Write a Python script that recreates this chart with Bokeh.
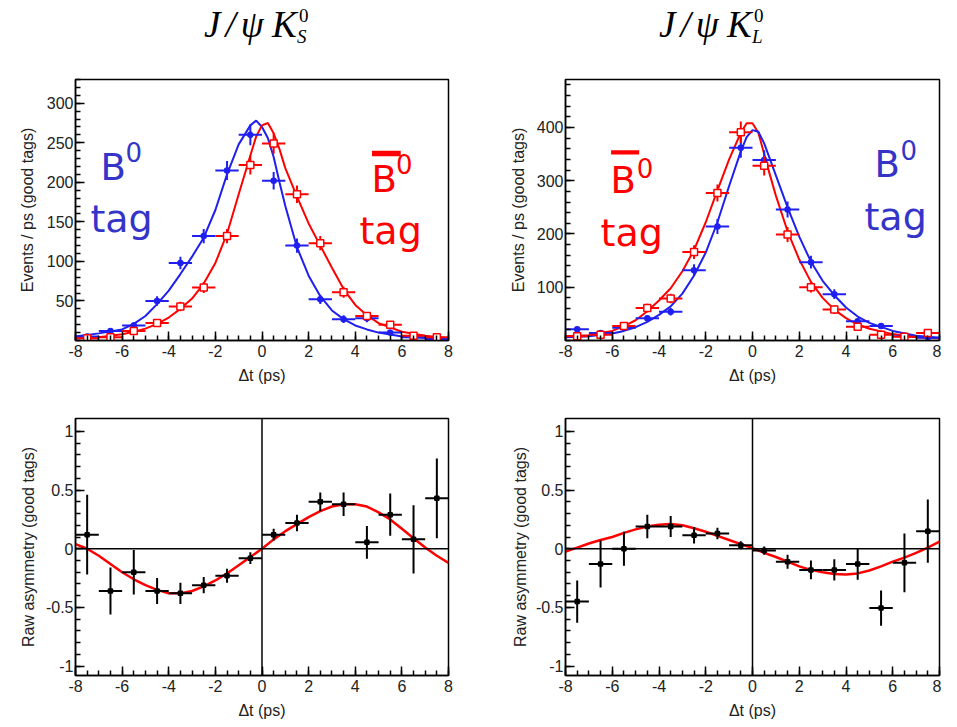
import numpy as np
from bokeh.plotting import figure
from bokeh.models import FixedTicker, Span, Label, Div, BoxAnnotation, CustomJSTickFormatter
from bokeh.layouts import column, row
from bokeh.embed import file_html
from bokeh.resources import INLINE

# ---------------- data ----------------
bin_centers = [-7.5, -6.5, -5.5, -4.5, -3.5, -2.5, -1.5, -0.5,
               0.5, 1.5, 2.5, 3.5, 4.5, 5.5, 6.5, 7.5]
bin_halfwidth = 0.5

# J/psi K0S : events / ps
ks_b0_counts = [5, 12, 19, 50, 98, 132, 215, 260, 202, 120, 52, 27, 28, 10, 4, 2]
ks_b0_errors = [2, 3, 4, 6, 8, 9, 12, 13, 11, 9, 6, 5, 5, 3, 2, 1.5]
ks_b0bar_counts = [3, 4, 12, 22, 43, 67, 132, 222, 249, 185, 123, 61, 31, 20, 6, 4]
ks_b0bar_errors = [1.5, 2, 3, 4, 6, 7, 9, 12, 13, 11, 9, 7, 5, 4, 2, 2]

curve_t = [-8, -7, -6, -5.5, -5, -4.5, -4, -3.5, -3, -2.5, -2, -1.5, -1, -0.5, -0.25,
           0, 0.25, 0.5, 0.75, 1, 1.5, 2, 2.5, 3, 3.5, 4, 4.5, 5, 6, 7, 8]
ks_b0_curve = [5, 9, 14, 21, 31, 46, 63, 84, 106, 130, 165, 210, 248, 272, 278,
               270, 256, 232, 200, 170, 118, 82, 56, 38, 27, 19, 14, 10, 5, 3, 2]
ks_b0bar_curve = [3, 4, 8, 11, 15, 21, 29, 40, 53, 72, 98, 135, 185, 234, 258,
                  272, 275, 262, 242, 218, 182, 148, 120, 92, 65, 45, 32, 22, 11, 6, 3]

# J/psi K0L : events / ps
kl_b0_counts = [21, 14, 24, 42, 54, 132, 214, 362, 339, 246, 147, 87, 36, 27, 8, 5]
kl_b0_errors = [4, 3, 4, 6, 7, 11, 14, 19, 18, 15, 12, 9, 6, 5, 3, 2]
kl_b0bar_counts = [8, 11, 27, 61, 79, 166, 277, 391, 328, 199, 100, 58, 26, 11, 7, 14]
kl_b0bar_errors = [3, 3, 5, 8, 9, 13, 16, 20, 18, 14, 10, 8, 5, 3, 3, 4]
kl_b0bar_curve = [8, 10, 18, 27, 38, 55, 75, 98, 130, 170, 222, 282, 340, 390, 408,
                  408, 390, 350, 310, 272, 205, 152, 110, 80, 58, 42, 30, 22, 12, 6, 4]
kl_b0_curve = [6, 8, 13, 18, 25, 35, 48, 64, 88, 122, 165, 222, 290, 355, 382,
               395, 392, 370, 340, 310, 250, 195, 148, 112, 85, 62, 45, 33, 18, 9, 5]

# raw asymmetries
ks_asym = [0.12, -0.36, -0.20, -0.36, -0.38, -0.31, -0.23, -0.08,
           0.12, 0.22, 0.40, 0.38, 0.055, 0.29, 0.08, 0.43]
ks_asym_err = [0.34, 0.20, 0.19, 0.11, 0.09, 0.07, 0.06, 0.05,
               0.05, 0.07, 0.08, 0.10, 0.14, 0.18, 0.29, 0.34]
kl_asym = [-0.45, -0.13, 0.0, 0.19, 0.19, 0.115, 0.13, 0.03,
           -0.015, -0.11, -0.18, -0.18, -0.13, -0.505, -0.12, 0.15]
kl_asym_err = [0.18, 0.20, 0.145, 0.10, 0.09, 0.07, 0.05, 0.035,
               0.035, 0.06, 0.08, 0.09, 0.135, 0.15, 0.25, 0.27]

asym_curve_t = [-8, -7.5, -7, -6.5, -6, -5.5, -5, -4.5, -4, -3.5, -3, -2.5, -2, -1.5, -1, -0.5,
                0, 0.5, 1, 1.5, 2, 2.5, 3, 3.5, 4, 4.5, 5, 5.5, 6, 6.5, 7, 7.5, 8]
ks_asym_curve = [0.04, 0.0, -0.06, -0.13, -0.20, -0.26, -0.31, -0.35, -0.38, -0.38, -0.36,
                 -0.32, -0.27, -0.21, -0.14, -0.07, 0.0, 0.08, 0.15, 0.21, 0.27, 0.32, 0.36,
                 0.38, 0.38, 0.36, 0.31, 0.25, 0.17, 0.09, 0.01, -0.06, -0.12]
kl_asym_curve = [-0.025, 0.01, 0.045, 0.075, 0.10, 0.135, 0.165, 0.19, 0.205, 0.21, 0.20,
                 0.175, 0.145, 0.11, 0.075, 0.04, 0.005, -0.035, -0.07, -0.11, -0.15, -0.18,
                 -0.20, -0.215, -0.22, -0.21, -0.185, -0.15, -0.11, -0.075, -0.035, 0.01, 0.06]

# tick labels
x_ticks = [-8, -6, -4, -2, 0, 2, 4, 6, 8]
x_minor = [-8 + 0.5 * i for i in range(33)]
ks_y_ticks = [50, 100, 150, 200, 250, 300]
ks_y_minor = list(range(0, 331, 10))
kl_y_ticks = [100, 200, 300, 400]
kl_y_minor = list(range(0, 491, 20))
asym_y_ticks = [-1, -0.5, 0, 0.5, 1]
asym_y_minor = [round(-1.0 + 0.1 * i, 1) for i in range(21)]

BLUE = "#1f1ff0"
RED = "#ff0000"
TXT_BLUE = "#3434c8"
FONT = "Liberation Sans"


def make_fig(width, height, yrange, yticks, yminor, ylabel, borders, ylab_standoff):
    left, right, top, bottom = borders
    p = figure(width=width, height=height, x_range=(-8, 8), y_range=yrange,
               output_backend="svg", toolbar_location=None,
               min_border_left=left, min_border_right=right,
               min_border_top=top, min_border_bottom=bottom)
    p.xgrid.visible = False
    p.ygrid.visible = False
    p.outline_line_color = "black"
    p.outline_line_width = 1.5
    p.outline_line_alpha = 1.0
    p.background_fill_color = "white"
    p.border_fill_color = "white"
    p.xaxis.ticker = FixedTicker(ticks=x_ticks, minor_ticks=x_minor)
    p.yaxis.ticker = FixedTicker(ticks=yticks, minor_ticks=yminor)
    for ax in (p.xaxis[0], p.yaxis[0]):
        ax.formatter = CustomJSTickFormatter(code="return String(tick);")
        ax.major_tick_in = 9
        ax.major_tick_out = 0
        ax.minor_tick_in = 5
        ax.minor_tick_out = 0
        ax.major_tick_line_color = "black"
        ax.minor_tick_line_color = "black"
        ax.major_tick_line_width = 1.5
        ax.minor_tick_line_width = 1.5
        ax.axis_line_color = "black"
        ax.axis_line_width = 1.5
        ax.major_label_text_font = FONT
        ax.major_label_text_font_size = "16px"
        ax.major_label_text_color = "#222222"
        ax.axis_label_text_font = FONT
        ax.axis_label_text_font_size = "16px"
        ax.axis_label_text_font_style = "normal"
        ax.axis_label_text_color = "#222222"
    p.xaxis.axis_label = "Δt (ps)"
    p.xaxis.major_label_standoff = 4
    p.xaxis.axis_label_standoff = 7
    p.yaxis.axis_label = ylabel
    p.yaxis.major_label_standoff = 2
    p.yaxis.axis_label_standoff = ylab_standoff
    return p


def draw_points(p, y, err, color, marker, size, fill):
    x = np.array(bin_centers)
    y = np.array(y, dtype=float)
    e = np.array(err, dtype=float)
    p.segment(x - bin_halfwidth, y, x + bin_halfwidth, y, line_color=color, line_width=2)
    p.segment(x, y - e, x, y + e, line_color=color, line_width=2)
    p.scatter(x, y, marker=marker, size=size, line_color=color,
              fill_color=color if fill else "white", line_width=1.5)


def tag_label(p, items, color):
    for (x, y, text, size) in items:
        p.add_layout(Label(x=x, y=y, text=text, text_font="DejaVu Sans",
                           text_font_size=size, text_color=color,
                           text_baseline="alphabetic", text_align="left"))


# ---------------- top left: J/psi K0S ----------------
p1 = make_fig(462, 325, (0, 330), ks_y_ticks, ks_y_minor,
              "Events / ps (good tags)", (75, 14, 7, 57), 8)
p1.line(curve_t, ks_b0_curve, line_color=BLUE, line_width=2)
p1.line(curve_t, ks_b0bar_curve, line_color=RED, line_width=2)
draw_points(p1, ks_b0_counts, ks_b0_errors, BLUE, "circle", 5, True)
draw_points(p1, ks_b0bar_counts, ks_b0bar_errors, RED, "square", 7, False)
tag_label(p1, [(-6.93, 219, "B", "37px"), (-5.85, 238, "0", "26px"),
               (-7.36, 154, "tag", "38px")], TXT_BLUE)
tag_label(p1, [(4.70, 204, "B", "37px"), (5.75, 223, "0", "26px"),
               (4.18, 138, "tag", "38px")], RED)
p1.add_layout(BoxAnnotation(left=4.72, right=5.95, bottom=233, top=240,
                            fill_color=RED, fill_alpha=1.0, line_alpha=0))

# ---------------- top right: J/psi K0L ----------------
p2 = make_fig(479, 325, (0, 490), kl_y_ticks, kl_y_minor,
              "Events / ps (good tags)", (103, 2, 7, 57), 7)
p2.line(curve_t, kl_b0bar_curve, line_color=RED, line_width=2)
p2.line(curve_t, kl_b0_curve, line_color=BLUE, line_width=2)
draw_points(p2, kl_b0_counts, kl_b0_errors, BLUE, "circle", 5, True)
draw_points(p2, kl_b0bar_counts, kl_b0bar_errors, RED, "square", 7, False)
tag_label(p2, [(-6.07, 300, "B", "37px"), (-4.95, 324, "0", "26px"),
               (-6.50, 202, "tag", "38px")], RED)
p2.add_layout(BoxAnnotation(left=-6.05, right=-4.85, bottom=349, top=357,
                            fill_color=RED, fill_alpha=1.0, line_alpha=0))
tag_label(p2, [(5.22, 330, "B", "37px"), (6.33, 358, "0", "26px"),
               (4.79, 232, "tag", "38px")], TXT_BLUE)

# ---------------- bottom: raw asymmetries ----------------
p3 = make_fig(462, 324, (-1.08, 1.11), asym_y_ticks, asym_y_minor,
              "Raw asymmetry (good tags)", (75, 14, 21, 41), 6)
p4 = make_fig(479, 324, (-1.08, 1.11), asym_y_ticks, asym_y_minor,
              "Raw asymmetry (good tags)", (103, 2, 21, 41), 4)
for p, a, ae, c in ((p3, ks_asym, ks_asym_err, ks_asym_curve),
                    (p4, kl_asym, kl_asym_err, kl_asym_curve)):
    p.add_layout(Span(location=0, dimension="width", line_color="black", line_width=1.5))
    p.add_layout(Span(location=0, dimension="height", line_color="black", line_width=1.5))
    p.line(asym_curve_t, c, line_color=RED, line_width=2.5)
    draw_points(p, a, ae, "black", "square", 4, True)

# ---------------- titles ----------------
serif = ("font-family:'Liberation Serif','DejaVu Serif',serif;color:#000;"
         "position:absolute;white-space:nowrap;")


def title_spans(x0, sub):
    return (
        f'<span style="{serif}left:{x0}px;top:1px;font-size:37px;line-height:38px;'
        f'font-style:italic;letter-spacing:5px;">J/ψ</span>'
        f'<span style="{serif}left:{x0 + 68}px;top:1px;font-size:37px;line-height:38px;'
        f'font-style:italic;">K</span>'
        f'<span style="{serif}left:{x0 + 95}px;top:0px;font-size:19px;line-height:21px;">0</span>'
        f'<span style="{serif}left:{x0 + 93}px;top:21px;font-size:19px;line-height:21px;'
        f'font-style:italic;">{sub}</span>'
    )


title_html = ('<div style="position:relative;width:941px;height:62px;">'
              + title_spans(199, "S") + title_spans(654, "L") + '</div>')
title_div = Div(text=title_html, width=941, height=62)

layout = column(title_div, row(p1, p2), row(p3, p4))
open("out.html", "w").write(file_html(layout, INLINE))
